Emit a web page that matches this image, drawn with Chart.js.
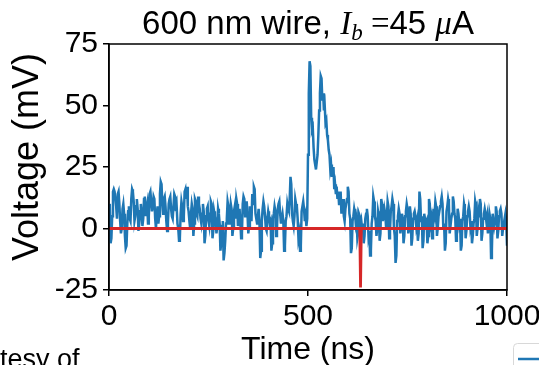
<!DOCTYPE html>
<html><head><meta charset="utf-8">
<script src="https://cdn.jsdelivr.net/npm/chart.js@4/dist/chart.umd.min.js"></script>
<style>html,body{margin:0;padding:0;background:#fff;overflow:hidden}#wrap{width:539px;height:365px;position:relative}</style>
</head><body><div id="wrap"><canvas id="c"></canvas></div>
<script>
// ---- data ----
const samplePeriodNs = 2;
const blueVoltage = [
 8,10,-6,-4,5,15,16,15,12,9,4,14,15,10,3,-2,0,8,10,6,
 -3,-8,-7,2,7,9,4,3,12,16,15,11,3,5,9,12,8,-1,2,7,
 10,6,1,4,12,13,5,8,10,2,5,14,15,11,7,9,13,12,4,0,
 6,9,2,5,14,19,18,10,6,12,13,9,3,-1,2,10,12,13,8,5,
 4,9,14,13,7,9,2,0,-5,-4,6,11,9,3,5,15,16,12,17,9,
 7,3,0,6,10,8,-3,2,12,11,6,5,13,10,8,4,2,6,10,7,
 -6,-3,5,8,9,3,1,6,11,10,-4,-1,7,5,3,-2,1,8,6,2,
 -9,-6,1,3,-13,-10,-5,2,4,11,9,2,5,10,8,-3,0,7,9,4,
 12,10,1,5,8,3,-4,-2,10,13,12,5,7,11,6,-2,1,9,7,3,
 14,10,17,16,6,4,2,5,8,3,-12,-9,3,8,11,9,5,0,-1,4,
 7,5,2,3,-9,-6,4,6,9,7,-3,0,8,10,11,6,2,4,6,3,
 -9,-7,3,5,10,8,7,12,21,18,6,3,1,5,12,10,9,4,-4,-2,
 -9,-7,7,9,11,8,3,5,1,4,
 30,55,68,66,45,40,41,33,28,26,
 24,27,30,38,48,55,62,61,52,55,
 48,50,43,44,38,36,32,30,24,26,
 21,23,25,16,18,14,17,12,15,10,
 13,15,6,9,12,5,3,8,10,12,
 17,15,6,4,-10,-8,3,5,8,6,2,4,-4,-2,6,5,1,3,0,2,
 -6,-3,4,6,8,5,-3,-1,-11,-9,2,5,13,11,5,3,-3,0,7,5,
 -5,-2,12,10,3,5,8,6,1,4,11,9,-4,-1,7,9,12,10,0,-3,
 -14,-11,3,5,8,6,-2,1,6,4,-6,-3,5,7,10,8,-2,0,9,6,
 -7,-4,4,6,7,5,1,3,-5,-2,15,12,3,5,-8,-5,6,4,2,3,
 -6,-3,12,10,2,4,-4,-1,8,6,11,9,-3,0,5,7,9,11,13,10,
 0,2,-9,-6,7,9,12,10,-2,1,4,6,13,11,6,4,-5,-2,8,6,
 2,4,-9,-7,3,5,10,8,-4,-1,5,7,9,7,1,3,-6,-3,2,4,
 11,9,-3,0,7,5,12,10,-5,-2,4,6,8,6,3,5,-2,0,6,4,
 -12,-9,6,4,1,3,9,7,-4,-1,5,7,8,6,-3,0,2,4,6,3,
 -7
];
const redTimesNs = [0, 630, 632, 634, 1000];
const redVoltage = [0, 0, -24, 0, 0];
const xTickLabels = ['0', '500', '1000'];
const yTickLabels = ['-25', '0', '25', '50', '75'];
const titleParts = [
  {text: '600 nm wire, ', font: '33px "Liberation Sans", Arial, sans-serif', dy: 0},
  {text: 'I', font: 'italic 33px "Liberation Serif", serif', dy: 0},
  {text: 'b', font: 'italic 23px "Liberation Serif", serif', dy: 6},
  {text: ' =', font: '33px "Liberation Serif", serif', dy: 0},
  {text: '45 ', font: '33px "Liberation Sans", Arial, sans-serif', dy: 0},
  {text: 'μ', font: 'italic 33px "Liberation Serif", serif', dy: 0},
  {text: 'A', font: '33px "Liberation Sans", Arial, sans-serif', dy: 0}
];
const xAxisTitle = 'Time (ns)';
const yAxisTitle = '  Voltage (mV)';
const cutText = 'tesy of';

const bluePoints = blueVoltage.map((v, i) => ({x: i * samplePeriodNs, y: v}));
const redPoints = redVoltage.map((v, i) => ({x: redTimesNs[i], y: v}));

const FONT = '"Liberation Sans", Arial, sans-serif';

const extras = {
  id: 'extras',
  afterDraw(chart) {
    const ctx = chart.ctx, a = chart.chartArea;
    ctx.save();
    ctx.strokeStyle = '#000'; ctx.lineWidth = 1.5;
    ctx.strokeRect(a.left, a.top, a.right - a.left, a.bottom - a.top);
    ctx.fillStyle = '#000'; ctx.textBaseline = 'alphabetic';
    let total = 0;
    titleParts.forEach(p => { ctx.font = p.font; total += ctx.measureText(p.text).width; });
    let x = (a.left + a.right) / 2 - total / 2;
    titleParts.forEach(p => { ctx.font = p.font; ctx.fillText(p.text, x, 34 + p.dy); x += ctx.measureText(p.text).width; });
    ctx.font = '27px ' + FONT;
    ctx.fillText(cutText, 0, 368);
    ctx.strokeStyle = '#d8d8d8'; ctx.lineWidth = 1;
    ctx.beginPath();
    ctx.roundRect(513.5, 343.5, 60, 40, 4);
    ctx.fillStyle = '#fff'; ctx.fill(); ctx.stroke();
    ctx.strokeStyle = '#1f77b4'; ctx.lineWidth = 2.5;
    ctx.beginPath(); ctx.moveTo(518, 359); ctx.lineTo(540, 359); ctx.stroke();
    ctx.restore();
  }
};

new Chart(document.getElementById('c'), {
  type: 'line',
  data: {
    datasets: [
      {data: redPoints, borderColor: '#d62728', borderWidth: 2.8, pointRadius: 0, order: 0},
      {data: bluePoints, borderColor: '#1f77b4', borderWidth: 2.5, pointRadius: 0, order: 1}
    ]
  },
  options: {
    responsive: true, maintainAspectRatio: false, animation: false, devicePixelRatio: 1,
    layout: {padding: {left: 0, right: 32, top: 44, bottom: 0}},
    plugins: {legend: {display: false}, tooltip: {enabled: false}},
    elements: {line: {tension: 0}},
    scales: {
      x: {
        type: 'linear', min: 0, max: 1000,
        afterFit: s => { s.height = 75; s.paddingLeft = 0; s.paddingRight = 0; },
        afterBuildTicks: s => { s.ticks = xTickLabels.map(t => ({value: Number(t)})); },
        ticks: {color: '#000', font: {family: FONT, size: 30}, padding: 3, maxRotation: 0,
                callback: (v, i) => xTickLabels[i]},
        grid: {display: true, drawOnChartArea: false, drawTicks: true, tickLength: 6, color: '#000', lineWidth: 1.5},
        border: {display: true, color: '#000', width: 1.5},
        title: {display: true, text: xAxisTitle, color: '#000', font: {family: FONT, size: 32}, padding: {top: 0, bottom: -4}}
      },
      y: {
        min: -25, max: 75,
        afterFit: s => { s.width = 109; s.paddingTop = 0; s.paddingBottom = 0; },
        afterBuildTicks: s => { s.ticks = yTickLabels.map(t => ({value: Number(t)})); },
        ticks: {color: '#000', font: {family: FONT, size: 30}, padding: 5,
                callback: (v, i) => yTickLabels[i]},
        grid: {display: true, drawOnChartArea: false, drawTicks: true, tickLength: 6, color: '#000', lineWidth: 1.5},
        border: {display: true, color: '#000', width: 1.5},
        title: {display: true, text: yAxisTitle, color: '#000', font: {family: FONT, size: 36}, padding: {top: 6, bottom: 0}}
      }
    }
  },
  plugins: [extras]
});
</script></body></html>
